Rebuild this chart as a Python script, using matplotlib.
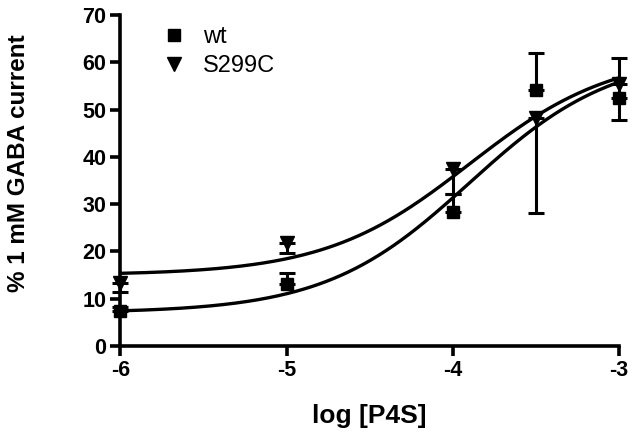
import numpy as np
import matplotlib
matplotlib.use("Agg")
import matplotlib.pyplot as plt

plt.rcParams['font.family'] = ['Liberation Sans', 'DejaVu Sans']

# measured points: log concentration, mean, SEM
wt_x = [-6, -5, -4, -3.5, -3]
wt_y = [7.3, 13.2, 28.4, 54.1, 52.4]
wt_err = [1.0, 2.2, 3.7, 7.9, 8.5]

mut_x = [-6, -5, -4, -3.5, -3]
mut_y = [13.3, 21.7, 37.4, 48.2, 55.5]
mut_err = [1.8, 2.0, 5.3, 20.1, 7.7]

# sigmoidal fit parameters (bottom, top, logEC50, hill)
wt_fit = (7.0, 62.0, -3.9, 1.0)
mut_fit = (15.0, 62.0, -3.9, 1.0)


def sigmoid(x, bottom, top, logec50, hill):
    return bottom + (top - bottom) / (1 + 10 ** ((logec50 - x) * hill))


fig = plt.figure(figsize=(6.33, 4.33), dpi=100)
ax = fig.add_axes([0.19, 0.201, 0.788, 0.764])

xs = np.linspace(-6, -3, 200)
ax.plot(xs, sigmoid(xs, *wt_fit), color='black', lw=2.4, zorder=2)
ax.plot(xs, sigmoid(xs, *mut_fit), color='black', lw=2.4, zorder=2)

# wt: error bars shown above, S299C: below (GraphPad style)
ax.errorbar(wt_x, wt_y, yerr=[np.zeros(len(wt_err)), wt_err], fmt='s',
            color='black', ms=8, elinewidth=2.2, capsize=6, capthick=2.2,
            label='wt', zorder=3, clip_on=False)
ax.errorbar(mut_x, mut_y, yerr=[mut_err, np.zeros(len(mut_err))], fmt='v',
            color='black', ms=9.5, elinewidth=2.2, capsize=6, capthick=2.2,
            label='S299C', zorder=3, clip_on=False)

ax.set_xlim(-6, -3)
ax.set_ylim(0, 70)
ax.set_xticks([-6, -5, -4, -3])
ax.set_yticks(range(0, 71, 10))
ax.set_xticklabels(['-6', '-5', '-4', '-3'])

for side in ['top', 'right']:
    ax.spines[side].set_visible(False)
for side in ['left', 'bottom']:
    ax.spines[side].set_linewidth(2.6)
ax.spines['bottom'].set_bounds(-6, -3)
ax.tick_params(width=2.6, length=7, direction='out', labelsize=15.5, pad=3)
for lab in ax.get_xticklabels() + ax.get_yticklabels():
    lab.set_fontweight('bold')

ax.set_xlabel('log [P4S]', fontsize=19, fontweight='bold', labelpad=17)
ax.set_ylabel('% 1 mM GABA current', fontsize=17.5, fontweight='bold')
ax.yaxis.set_label_coords(-0.18, 0.553)

handles, labels = ax.get_legend_handles_labels()
handles = [h[0] for h in handles]
ax.legend(handles, labels, loc='upper left',
          bbox_to_anchor=(157 / 633, 1 - 26 / 433), bbox_transform=fig.transFigure,
          frameon=False, fontsize=17, handletextpad=0.55, labelspacing=0.3,
          handlelength=1.4, borderpad=0, borderaxespad=0)

fig.savefig('out.png', dpi=100)
